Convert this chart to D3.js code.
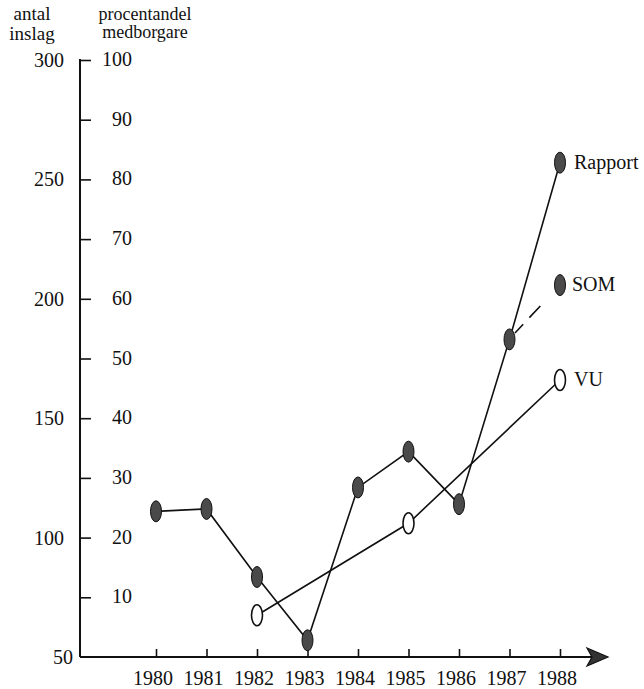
<!DOCTYPE html>
<html>
<head>
<meta charset="utf-8">
<script src="https://cdn.jsdelivr.net/npm/d3@7"></script>
<style>
  body { margin: 0; background: #fff; }
  svg text { font-family: "Liberation Serif", "DejaVu Serif", serif; fill: #111; }
</style>
</head>
<body>
<div class="graph-d3"></div>
<script>
// data
var years = [1980, 1981, 1982, 1983, 1984, 1985, 1986, 1987, 1988];
var rapport = [111, 112, 83.5, 57, 121, 136, 114, 183, 257];      // antal inslag
var somYears = [1987, 1988];
var som = [53.3, 62.3];                                          // procent
var vuYears = [1982, 1985, 1988];
var vu = [7, 22.4, 46.4];                                        // procent
var antalTicks = [50, 100, 150, 200, 250, 300];
var pctTicks = [10, 20, 30, 40, 50, 60, 70, 80, 90, 100];

(function() {
    var
        width = 644,
        height = 689,
        axisX = 80,
        topY = 60,
        bottomY = 657,
        svg = d3.select('.graph-d3').append('svg')
            .attr('width', width)
            .attr('height', height);

    var
        x = d3.scaleLinear().domain([1980, 1988]).range([156, 560]),
        yAntal = d3.scaleLinear().domain([50, 300]).range([bottomY, topY]),
        yPct = d3.scaleLinear().domain([0, 100]).range([bottomY, topY]);

    // headers
    svg.append('text').attr('x', 32).attr('y', 20).attr('text-anchor', 'middle')
        .style('font-size', '19px').text('antal');
    svg.append('text').attr('x', 32).attr('y', 40).attr('text-anchor', 'middle')
        .style('font-size', '19px').text('inslag');
    svg.append('text').attr('x', 145).attr('y', 20).attr('text-anchor', 'middle')
        .style('font-size', '18px').text('procentandel');
    svg.append('text').attr('x', 145).attr('y', 38).attr('text-anchor', 'middle')
        .style('font-size', '18px').text('medborgare');

    // vertical axis, ticks pointing right
    var yAxis = svg.append('g')
        .attr('transform', 'translate(' + axisX + ',0)')
        .call(d3.axisRight(yPct).tickValues(pctTicks).tickSize(11).tickSizeOuter(0).tickFormat(''));
    yAxis.select('.domain').remove();
    yAxis.selectAll('line').attr('stroke', '#111').attr('stroke-width', 1.6);
    svg.append('line')
        .attr('x1', axisX).attr('x2', axisX)
        .attr('y1', yPct(100) - 1).attr('y2', bottomY)
        .attr('stroke', '#111').attr('stroke-width', 2);

    svg.selectAll('.antal-label')
        .data(antalTicks)
        .enter()
        .append('text')
        .attr('class', 'antal-label')
        .attr('x', function(d){ return d === 50 ? 73 : 64; })
        .attr('y', function(d){ return yAntal(d); })
        .attr('dy', '0.35em')
        .attr('text-anchor', 'end')
        .style('font-size', '20px')
        .text(function(d){ return d; });

    svg.selectAll('.pct-label')
        .data(pctTicks)
        .enter()
        .append('text')
        .attr('class', 'pct-label')
        .attr('x', 132)
        .attr('y', function(d){ return yPct(d); })
        .attr('dy', '0.3em')
        .attr('text-anchor', 'end')
        .style('font-size', '20px')
        .text(function(d){ return d; });

    // horizontal axis with arrow
    var xAxis = svg.append('g')
        .attr('transform', 'translate(0,' + bottomY + ')')
        .call(d3.axisTop(x).tickValues(years).tickSize(8).tickSizeOuter(0).tickFormat(''));
    xAxis.select('.domain').remove();
    xAxis.selectAll('line').attr('stroke', '#111').attr('stroke-width', 1.6);
    svg.append('line')
        .attr('x1', axisX).attr('x2', 592)
        .attr('y1', bottomY).attr('y2', bottomY)
        .attr('stroke', '#111').attr('stroke-width', 2);
    svg.append('path')
        .attr('d', 'M587,' + (bottomY - 9) + 'L608,' + bottomY + 'L587,' + (bottomY + 9) + 'L592,' + bottomY + 'Z')
        .attr('fill', '#333').attr('stroke', '#111').attr('stroke-width', 1.2);

    svg.selectAll('.year-label')
        .data(years)
        .enter()
        .append('text')
        .attr('class', 'year-label')
        .attr('x', function(d){ return x(d) - 3; })
        .attr('y', 685)
        .attr('text-anchor', 'middle')
        .style('font-size', '20px')
        .text(function(d){ return d; });

    // lines
    var lineAntal = d3.line()
        .x(function(d){ return x(d[0]); })
        .y(function(d){ return yAntal(d[1]); });
    var linePct = d3.line()
        .x(function(d){ return x(d[0]); })
        .y(function(d){ return yPct(d[1]); });

    var rapportData = years.map(function(y, i){ return [y, rapport[i]]; });
    var somData = somYears.map(function(y, i){ return [y, som[i]]; });
    var vuData = vuYears.map(function(y, i){ return [y, vu[i]]; });

    svg.append('path').datum(vuData).attr('d', linePct)
        .attr('fill', 'none').attr('stroke', '#111').attr('stroke-width', 1.6);
    svg.append('path').datum(rapportData).attr('d', lineAntal)
        .attr('fill', 'none').attr('stroke', '#111').attr('stroke-width', 1.6);
    svg.append('path').datum(somData).attr('d', linePct)
        .attr('fill', 'none').attr('stroke', '#111').attr('stroke-width', 1.6)
        .attr('stroke-dasharray', '0,8,12,9,16,40');

    // markers
    function markers(data, y, filled) {
        svg.append('g').selectAll('ellipse')
            .data(data)
            .enter()
            .append('ellipse')
            .attr('cx', function(d){ return x(d[0]); })
            .attr('cy', function(d){ return y(d[1]); })
            .attr('rx', 5.5)
            .attr('ry', 10.5)
            .attr('fill', filled ? '#4a4a4a' : '#fff')
            .attr('stroke', '#111')
            .attr('stroke-width', filled ? 1 : 1.6);
    }
    markers(vuData, yPct, false);
    markers(somData.slice(1), yPct, true);
    markers(rapportData, yAntal, true);

    // series labels
    svg.append('text').attr('x', 574).attr('y', yAntal(rapport[8])).attr('dy', '0.3em')
        .style('font-size', '20px').text('Rapport');
    svg.append('text').attr('x', 572).attr('y', yPct(som[1])).attr('dy', '0.3em')
        .style('font-size', '20px').text('SOM');
    svg.append('text').attr('x', 574).attr('y', yPct(vu[2])).attr('dy', '0.3em')
        .style('font-size', '20px').text('VU');
})();
</script>
</body>
</html>
